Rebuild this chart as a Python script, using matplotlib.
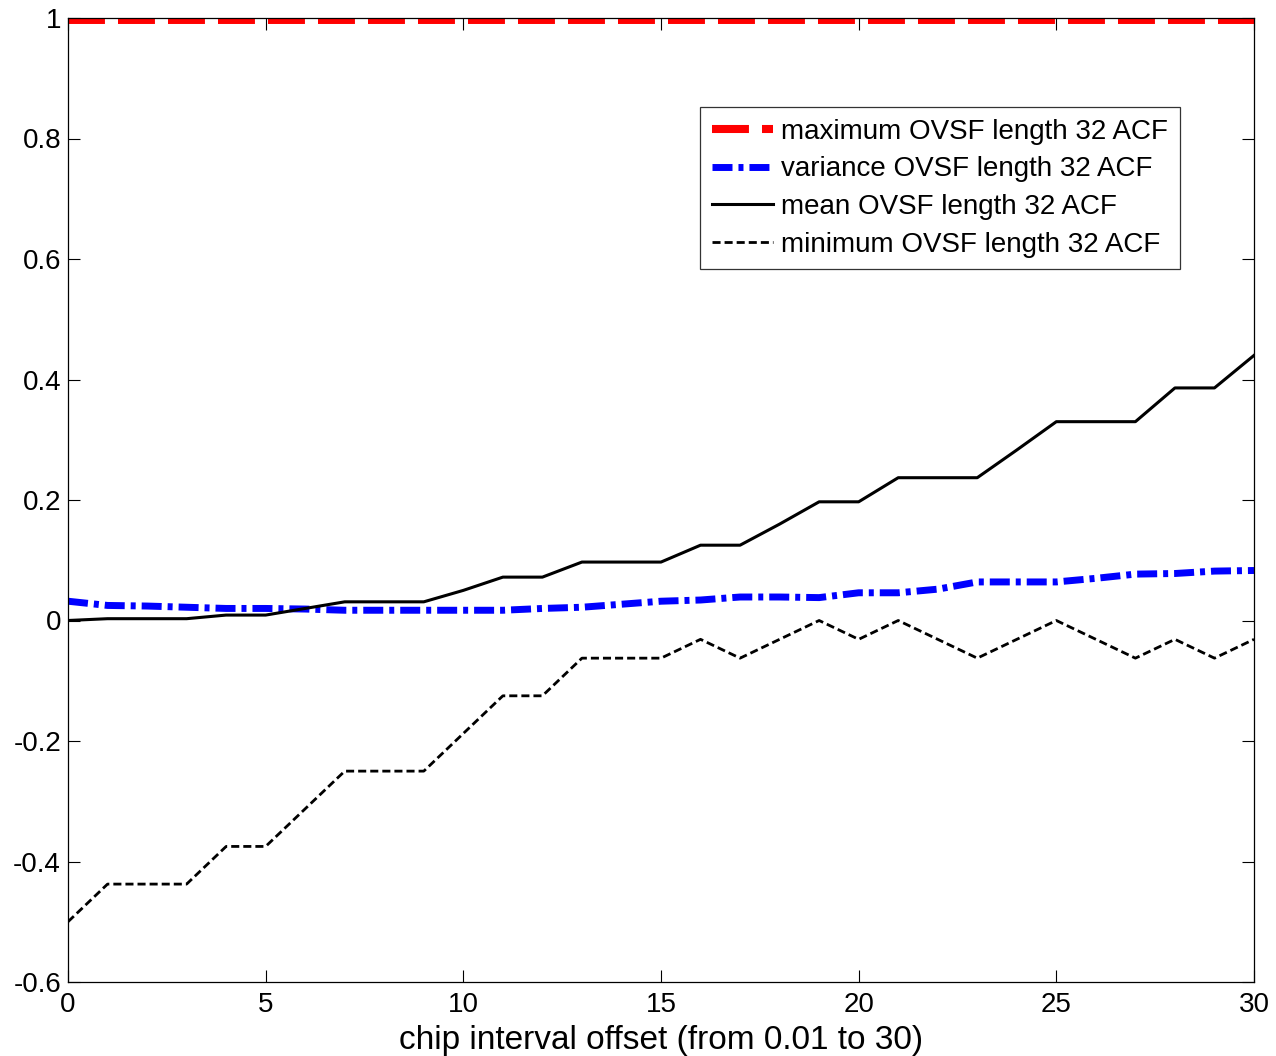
import matplotlib
matplotlib.use('Agg')
import matplotlib.pyplot as plt

plt.rcParams['font.family'] = ['Liberation Sans', 'DejaVu Sans']
plt.rcParams['lines.scale_dashes'] = False

# chip offsets and ACF statistics
offset = list(range(0, 31))
acf_max = [1.0] * 31
acf_var = [0.032, 0.025, 0.024, 0.022, 0.020, 0.020, 0.019, 0.017, 0.017, 0.017,
           0.017, 0.017, 0.020, 0.022, 0.027, 0.032, 0.034, 0.039, 0.039, 0.038,
           0.046, 0.046, 0.052, 0.064, 0.064, 0.064, 0.070, 0.077, 0.078, 0.082, 0.083]
acf_mean = [0.0, 0.003, 0.003, 0.003, 0.009, 0.009, 0.020, 0.031, 0.031, 0.031,
            0.050, 0.072, 0.072, 0.097, 0.097, 0.097, 0.125, 0.125, 0.160, 0.197,
            0.197, 0.237, 0.237, 0.237, 0.283, 0.330, 0.330, 0.330, 0.386, 0.386, 0.440]
acf_min = [-0.5, -0.4375, -0.4375, -0.4375, -0.375, -0.375, -0.3125, -0.25, -0.25, -0.25,
           -0.1875, -0.125, -0.125, -0.0625, -0.0625, -0.0625, -0.03125, -0.0625, -0.03125, 0.0,
           -0.03125, 0.0, -0.03125, -0.0625, -0.03125, 0.0, -0.03125, -0.0625, -0.03125, -0.0625, -0.03125]

fig = plt.figure(figsize=(12.76, 10.56), dpi=100)
ax = fig.add_axes([68/1276, 1 - 982/1056, (1254-68)/1276, (982-18)/1056])

# max line sits on the top border, so only its lower half shows
ax.plot(offset, acf_max, color='#ff0000', lw=8.6, dashes=(26.6, 9.4),
        label='maximum OVSF length 32 ACF')
ax.plot(offset, acf_var, color='#0000ff', lw=5.0, dashes=(14.4, 4.3, 3.6, 4.3),
        label='variance OVSF length 32 ACF')
ax.plot(offset, acf_mean, color='black', lw=2.2, label='mean OVSF length 32 ACF')
ax.plot(offset, acf_min, color='black', lw=2.0, dashes=(5.8, 2.9),
        label='minimum OVSF length 32 ACF')

ax.set_xlim(0, 30)
ax.set_ylim(-0.6, 1)
ax.set_xticks([0, 5, 10, 15, 20, 25, 30])
ax.set_yticks([-0.6, -0.4, -0.2, 0, 0.2, 0.4, 0.6, 0.8, 1])
ax.set_yticklabels(['-0.6', '-0.4', '-0.2', '0', '0.2', '0.4', '0.6', '0.8', '1'])
ax.tick_params(direction='in', length=8.5, width=0.8, top=True, right=True,
               labelsize=20, pad=5)
ax.tick_params(axis='x', pad=7)
for s in ax.spines.values():
    s.set_linewidth(0.9)

ax.set_xlabel('chip interval offset (from 0.01 to 30)', fontsize=24, labelpad=5)

leg = ax.legend(loc='upper right', bbox_to_anchor=((1180-68)/1186, (982-107)/964),
                fontsize=20, frameon=True, fancybox=False, edgecolor='black',
                handlelength=2.2, handletextpad=0.3, labelspacing=0.42,
                borderpad=0.42, borderaxespad=0)
leg.get_frame().set_linewidth(0.9)
leg.get_lines()[0].set_linewidth(5.8)

fig.savefig('out.png', dpi=100)
